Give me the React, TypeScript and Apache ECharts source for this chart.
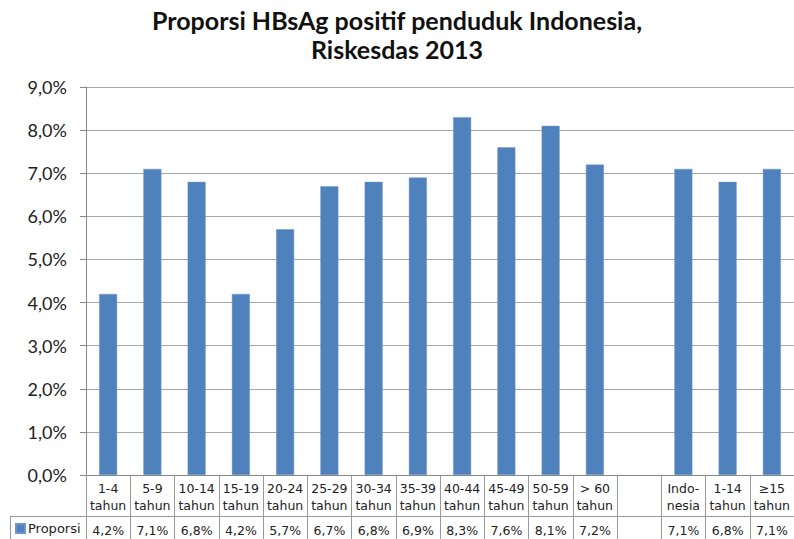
import React, { useEffect, useRef } from "react";
import * as echarts from "echarts";

const titleLines = ["Proporsi HBsAg positif penduduk Indonesia,", "Riskesdas 2013"];
const seriesName = "Proporsi";
const categories = [
  "1-4\ntahun", "5-9\ntahun", "10-14\ntahun", "15-19\ntahun", "20-24\ntahun",
  "25-29\ntahun", "30-34\ntahun", "35-39\ntahun", "40-44\ntahun", "45-49\ntahun",
  "50-59\ntahun", "> 60\ntahun", "", "Indo-\nnesia", "1-14\ntahun", "≥15\ntahun",
];
const values: (number | null)[] = [4.2, 7.1, 6.8, 4.2, 5.7, 6.7, 6.8, 6.9, 8.3, 7.6, 8.1, 7.2, null, 7.1, 6.8, 7.1];
const yMin = 0;
const yMax = 9;
const yStep = 1;

const fmt = (v: number | null) => (v == null ? "" : v.toFixed(1).replace(".", ",") + "%");

export default function App() {
  const ref = useRef<HTMLDivElement>(null);
  useEffect(() => {
    document.body.style.margin = "0";
    document.documentElement.style.overflow = "hidden";
    const chart = echarts.init(ref.current!, null, { renderer: "svg" });
    const tableFont = "DejaVu Sans";
    chart.setOption({
      animation: false,
      backgroundColor: "#ffffff",
      title: {
        text: titleLines.join("\n"),
        left: "center",
        top: 0,
        textStyle: {
          fontFamily: "Lato",
          fontWeight: "bold",
          fontSize: 25,
          lineHeight: 29,
          color: "#111",
        },
      },
      legend: {
        data: [seriesName],
        left: 15,
        top: 522,
        icon: "rect",
        itemWidth: 9,
        itemHeight: 9,
        itemGap: 4,
        padding: 0,
        textStyle: { fontFamily: tableFont, fontSize: 13, color: "#222", padding: [0, 0, 0, -2] },
      },
      grid: { left: 86, right: -4, top: 87, bottom: 64, containLabel: false },
      xAxis: {
        type: "category",
        data: categories,
        boundaryGap: true,
        axisLine: { show: true, lineStyle: { color: "#888", width: 1 } },
        axisTick: { show: true, length: 70, alignWithLabel: false, lineStyle: { color: "#999", width: 1 } },
        axisLabel: {
          interval: 0,
          margin: 5,
          formatter: (val: string, idx: number) => {
            const parts = val ? val.split("\n") : ["", ""];
            return `{c|${parts[0] || " "}}\n{c|${parts[1] || " "}}\n{v|${fmt(values[idx]) || " "}}`;
          },
          rich: {
            c: { fontFamily: tableFont, fontSize: 12.5, lineHeight: 17, color: "#222", align: "center" },
            v: { fontFamily: tableFont, fontSize: 12.5, lineHeight: 33, color: "#222", align: "center" },
          },
        },
      },
      yAxis: {
        type: "value",
        min: yMin,
        max: yMax,
        interval: yStep,
        axisLine: { show: true, lineStyle: { color: "#888", width: 1 } },
        axisTick: { show: true, length: 6, lineStyle: { color: "#888" } },
        splitLine: { show: true, lineStyle: { color: "#a6a6a6", width: 1 } },
        axisLabel: {
          margin: 19,
          formatter: (v: number) => fmt(v),
          fontFamily: "Lato",
          fontSize: 18,
          color: "#222",
        },
      },
      series: [
        {
          name: seriesName,
          type: "bar",
          data: values,
          barWidth: 18,
          itemStyle: { color: "#4f81bd", borderColor: "#6f96c8", borderWidth: 0.5 },
        },
      ],
      graphic: [
        {
          type: "line",
          shape: { x1: 10, y1: 516.5, x2: 800, y2: 516.5 },
          style: { stroke: "#999", lineWidth: 1 },
          silent: true,
        },
        {
          type: "line",
          shape: { x1: 10.5, y1: 516, x2: 10.5, y2: 545 },
          style: { stroke: "#999", lineWidth: 1 },
          silent: true,
        },
      ],
    });
    return () => chart.dispose();
  }, []);
  return <div ref={ref} style={{ position: "absolute", left: 0, top: 0, width: 794, height: 539 }} />;
}
